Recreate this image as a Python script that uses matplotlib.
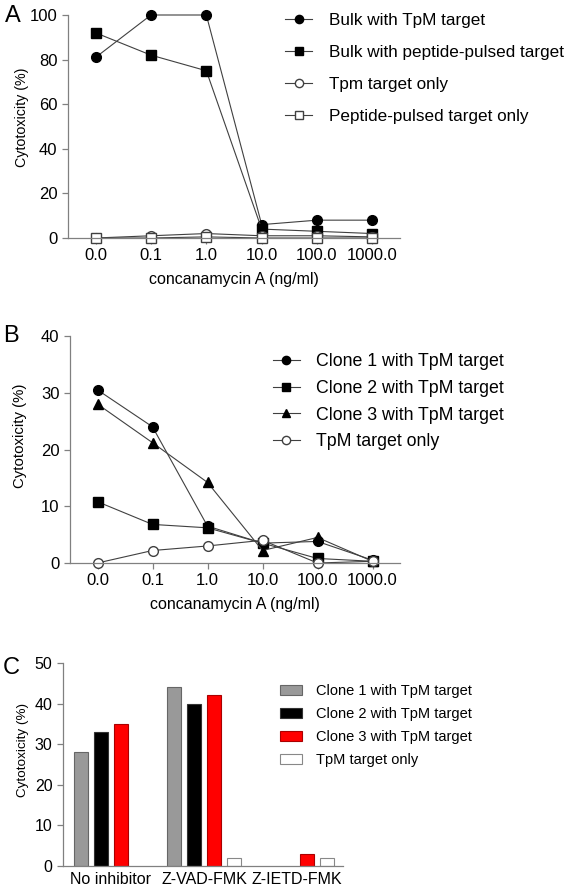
import matplotlib
matplotlib.use("Agg")
import matplotlib.pyplot as plt
import numpy as np

plt.rcParams['font.family'] = ['Liberation Sans', 'DejaVu Sans']

conc_labels = ["0.0", "0.1", "1.0", "10.0", "100.0", "1000.0"]

# Panel A
a_bulk_tpm = [81, 100, 100, 6, 8, 8]
a_bulk_pep = [92, 82, 75, 4, 3, 2]
a_tpm_only = [0, 1, 2, 1, 1, 0.5]
a_pep_only = [0, 0, 0.5, 0, 0, 0]
a_labels = ["Bulk with TpM target", "Bulk with peptide-pulsed target",
            "Tpm target only", "Peptide-pulsed target only"]

# Panel B
b_clone1 = [30.5, 24, 6.5, 3.5, 3.8, 0.5]
b_clone2 = [10.8, 6.8, 6.2, 3.5, 0.8, 0.3]
b_clone3 = [28, 21.2, 14.2, 2.2, 4.5, 0.3]
b_tpm_only = [0, 2.2, 3, 4, 0, 0.3]
b_labels = ["Clone 1 with TpM target", "Clone 2 with TpM target",
            "Clone 3 with TpM target", "TpM target only"]

# Panel C
c_groups = ["No inhibitor", "Z-VAD-FMK", "Z-IETD-FMK"]
c_clone1 = [28, 44, 0]
c_clone2 = [33, 40, 0]
c_clone3 = [35, 42, 3]
c_tpm_only = [0, 2, 2]
c_labels = b_labels

W, H = 566, 885
fig = plt.figure(figsize=(W/100, H/100), dpi=100)

def px_axes(x0, x1, ytop, ybot):
    return fig.add_axes([x0/W, 1-ybot/H, (x1-x0)/W, (ybot-ytop)/H])

axis_col = '#808080'
line_col = '#404040'

def style(ax, ls=12):
    for s in ['top', 'right']:
        ax.spines[s].set_visible(False)
    for s in ['left', 'bottom']:
        ax.spines[s].set_color(axis_col)
        ax.spines[s].set_linewidth(0.9)
    ax.tick_params(colors=axis_col, labelcolor='black', labelsize=ls,
                   width=0.9, length=4, direction='out')

# ---------- Panel A
axA = px_axes(68, 400, 15, 238)
style(axA)
x = np.arange(len(conc_labels))
ms = 7
axA.plot(x, a_bulk_tpm, '-o', color=line_col, lw=0.8, mfc='black', mec='black', ms=ms, clip_on=False, label=a_labels[0])
axA.plot(x, a_bulk_pep, '-s', color=line_col, lw=0.8, mfc='black', mec='black', ms=ms, clip_on=False, label=a_labels[1])
axA.plot(x, a_tpm_only, '-o', color=line_col, lw=0.8, mfc='white', mec=line_col, ms=ms, clip_on=False, label=a_labels[2])
axA.plot(x, a_pep_only, '-s', color=line_col, lw=0.8, mfc='white', mec=line_col, ms=ms, clip_on=False, label=a_labels[3])
axA.set_xlim(-0.5, 5.5)
axA.set_ylim(0, 100)
axA.set_yticks([0, 20, 40, 60, 80, 100])
axA.set_xticks(x)
axA.set_xticklabels(conc_labels)
axA.set_xlabel("concanamycin A (ng/ml)", fontsize=11.5, labelpad=6)
axA.set_ylabel("Cytotoxicity (%)", fontsize=10.3)
axA.yaxis.set_label_coords(-0.1175, 0.54)
axA.legend(loc='upper left', bbox_to_anchor=(278/W, 1-6/H), bbox_transform=fig.transFigure,
           frameon=False, fontsize=12.3, handlelength=1.6, handletextpad=1.0,
           labelspacing=1.0, borderaxespad=0, markerscale=0.85)
fig.text(5/W, 1-5/H, "A", fontsize=17, va='top', ha='left')

# ---------- Panel B
axB = px_axes(70, 400, 336, 563)
style(axB)
axB.plot(x, b_clone1, '-o', color=line_col, lw=0.8, mfc='black', mec='black', ms=ms, clip_on=False, label=b_labels[0])
axB.plot(x, b_clone2, '-s', color=line_col, lw=0.8, mfc='black', mec='black', ms=ms, clip_on=False, label=b_labels[1])
axB.plot(x, b_clone3, '-^', color=line_col, lw=0.8, mfc='black', mec='black', ms=ms, clip_on=False, label=b_labels[2])
axB.plot(x, b_tpm_only, '-o', color=line_col, lw=0.8, mfc='white', mec=line_col, ms=ms, clip_on=False, label=b_labels[3])
axB.set_xlim(-0.5, 5.5)
axB.set_ylim(0, 40)
axB.set_yticks([0, 10, 20, 30, 40])
axB.set_xticks(x)
axB.set_xticklabels(conc_labels)
axB.set_xlabel("concanamycin A (ng/ml)", fontsize=11.5, labelpad=6)
axB.set_ylabel("Cytotoxicity (%)", fontsize=10.8)
axB.yaxis.set_label_coords(-0.130, 0.56)
axB.legend(loc='upper left', bbox_to_anchor=(266/W, 1-346/H), bbox_transform=fig.transFigure,
           frameon=False, fontsize=12.8, handlelength=1.5, handletextpad=0.9,
           labelspacing=0.55, borderaxespad=0, markerscale=0.85)
fig.text(3/W, 1-325/H, "B", fontsize=17, va='top', ha='left')

# ---------- Panel C
axC = px_axes(63, 343, 663, 866)
style(axC, ls=11.5)
g = np.arange(len(c_groups))
bw = 14/93
step = 20/93
offs = np.array([-1.5, -0.5, 0.5, 1.5]) * step
cols = ['#999999', '#000000', '#ff0000', '#ffffff']
edges = ['#666666', '#333333', '#aa0000', '#888888']
series = [c_clone1, c_clone2, c_clone3, c_tpm_only]
for i, (vals, c, e, lab) in enumerate(zip(series, cols, edges, c_labels)):
    vals = np.array(vals, dtype=float)
    mask = vals > 0
    axC.bar(g[mask] + offs[i], vals[mask], width=bw, color=c, edgecolor=e, linewidth=0.8, label=lab)
axC.set_xlim(-0.516, 2.495)
axC.set_ylim(0, 50)
axC.set_yticks([0, 10, 20, 30, 40, 50])
axC.set_xticks(g)
axC.set_xticklabels(c_groups)
axC.tick_params(axis='x', length=0, pad=4)
axC.set_ylabel("Cytotoxicity (%)", fontsize=9.7)
axC.yaxis.set_label_coords(-0.121, 0.57)
axC.legend(loc='upper left', bbox_to_anchor=(274/W, 1-678/H), bbox_transform=fig.transFigure,
           frameon=False, fontsize=10.5, handlelength=1.55, handleheight=0.7, handletextpad=0.9,
           labelspacing=0.62, borderaxespad=0)
fig.text(3/W, 1-657/H, "C", fontsize=17, va='top', ha='left')

fig.savefig("out.png", dpi=100)
